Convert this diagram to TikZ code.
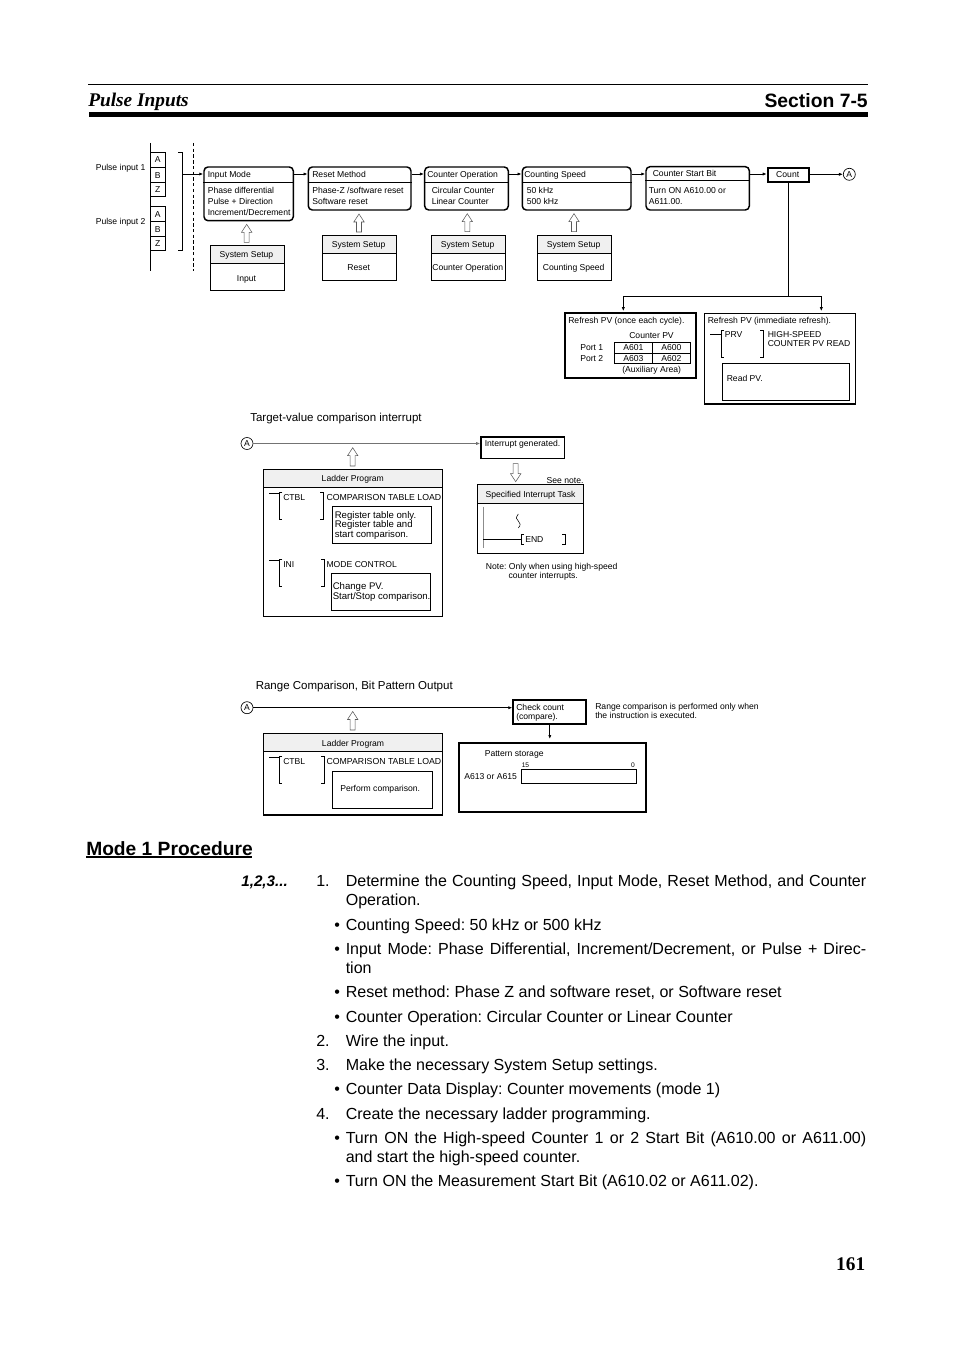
\documentclass[tikz,border=0pt]{standalone}
\usepackage{fontspec}
\setmainfont{Liberation Sans}
\newfontfamily\timesf{Liberation Serif}
\usetikzlibrary{fit,arrows.meta}
\newcommand\smf{\fontsize{6.45pt}{8pt}\selectfont}
\newcommand\mdf{\fontsize{7.2pt}{9pt}\selectfont}
\newcommand\tnf{\fontsize{5pt}{6pt}\selectfont}
\newcommand\lgf{\fontsize{8.63pt}{10pt}\selectfont}
\newcommand\bdf{\fontsize{12.03pt}{14pt}\selectfont}
\newcommand\hollowup[3]{\draw[hollow] (#1-2.5,#3) -- (#1+2.5,#3) -- (#1+2.5,#2+8) -- (#1+5.2,#2+8) -- (#1,#2) -- (#1-5.2,#2+8) -- (#1-2.5,#2+8) -- cycle;}
\newcommand\hollowdown[3]{\draw[hollow] (#1-2.5,#2) -- (#1+2.5,#2) -- (#1+2.5,#3-8) -- (#1+5.2,#3-8) -- (#1,#3) -- (#1-5.2,#3-8) -- (#1-2.5,#3-8) -- cycle;}
\newcommand\ladder[6]{% x-stub, x-left, x-right, y1, y2, y-stub
  \draw[thin line] (#1,#6) -- (#2,#6);
  \draw[thin line] (#2+3,#4) -- (#2,#4) -- (#2,#5) -- (#2+3,#5);
  \draw[thin line] (#3-3,#4) -- (#3,#4) -- (#3,#5) -- (#3-3,#5);}
\newcommand\just[3]{\node[bd] (#1) at (345.5,#2) {\hbox to 390.4pt{#3}};}
\tikzset{
  x=0.75pt,y=-0.75pt,
  thin line/.style={line width=0.6pt,black},
  plain/.style={draw=black,line width=0.6pt,inner sep=0pt},
  heavy/.style={draw=black,line width=1.5pt,inner sep=0pt},
  step round/.style={draw=black,line width=1.1pt,rounded corners=3pt,inner sep=0pt},
  head/.style={draw=black,line width=0.6pt,fill=black!6,inner sep=0pt},
  hollow/.style={draw=black!65,line width=0.4pt,fill=white},
  conn/.style={line width=0.6pt,-{Latex[length=3pt,width=2.4pt]}},
  tx/.style={anchor=base west,inner sep=0pt,font=\smf},
  tc/.style={anchor=base,inner sep=0pt,font=\smf},
  bd/.style={anchor=base west,inner sep=0pt,font=\bdf},
  circ/.style={draw=black,circle,line width=0.5pt,minimum size=9pt,inner sep=0pt,font=\smf},
}
\begin{document}
\frenchspacing
\begin{tikzpicture}
\useasboundingbox (0,0) rectangle (954,1351);
\fill[white] (0,0) rectangle (954,1351);
% page header
\draw[line width=0.6pt] (88,84.7) -- (868,84.7);
\draw[line width=3.5pt] (89,114.3) -- (868,114.3);
\node[anchor=base west,inner sep=0pt,font=\timesf\fontsize{14.5pt}{16pt}\selectfont\bfseries\itshape] (hdl) at (88,106.5) {Pulse Inputs};
\node[anchor=base east,inner sep=0pt,font=\fontsize{14.5pt}{16pt}\selectfont\bfseries] (hdr) at (868,107.5) {Section 7-5};

% ---- pulse inputs
\draw[thin line] (150,143) -- (150,271);
\draw[thin line,dash pattern=on 2.5pt off 1.8pt] (193.3,143) -- (193.3,271);
\foreach \n/\t/\a/\b in {a1/A/152.3/167.3,b1/B/167.3/182.7,z1/Z/182.7/196.3,a2/A/206.3/221.7,b2/B/221.7/236.7,z2/Z/236.7/250.3}{
  \node[plain,fit={(150,\a)(165.7,\b)}] (\n) {};
  \node[tc] (\n t) at ([yshift=-2.4pt]\n.center) {\t};
}
\node[tx] (pi1) at (95.5,171) {Pulse input 1};
\node[tx] (pi2) at (95.5,225) {Pulse input 2};
\coordinate (brk) at (182.7,174);
\draw[thin line] (178.3,152.3) -- (182.7,152.3) -- (182.7,250.3) -- (178.3,250.3);

% ---- top row
\node[step round,fit={(204,167)(293.3,220.7)}] (mode) {};
\node[step round,fit={(308.3,167)(411,210)}] (reset) {};
\node[step round,fit={(424.7,167)(508.3,210)}] (oper) {};
\node[step round,fit={(522.3,167)(631,210)}] (speed) {};
\node[step round,fit={(646,166.7)(749.3,210)}] (start) {};
\node[heavy,fit={(767.7,167.7)(809.3,182.3)}] (count) {};
\node[circ] (aout) at (849.3,174.3) {A};
\foreach \n in {mode,reset,oper,speed}
  \draw[thin line] (\n.west |- 0,182.3) -- (\n.east |- 0,182.3);
\draw[thin line] (start.west |- 0,180.7) -- (start.east |- 0,180.7);
\draw[conn] (brk) -- (mode.west |- brk);
\draw[conn] (mode.east |- brk) -- (reset.west |- brk);
\draw[conn] (reset.east |- brk) -- (oper.west |- brk);
\draw[conn] (oper.east |- brk) -- (speed.west |- brk);
\draw[conn] (speed.east |- brk) -- (start.west |- brk);
\draw[conn] (start.east |- brk) -- (count.west |- brk);
\draw[conn] (count.east |- aout) -- (aout.west);

\node[tx] (t1) at (207.5,177.5) {Input Mode};
\node[tx] (t2) at (207.5,193.5) {Phase differential};
\node[tx] (t3) at (207.5,204.5) {Pulse + Direction};
\node[tx] (t4) at (207.5,215.5) {Increment/Decrement};
\node[tx] (t5) at (312,177.5) {Reset Method};
\node[tx] (t6) at (312,193.5) {Phase-Z /software reset};
\node[tx] (t7) at (312,204.5) {Software reset};
\node[tx] (t8) at (427,177.5) {Counter Operation};
\node[tx] (t9) at (431.5,193.5) {Circular Counter};
\node[tx] (t10) at (431.5,204.5) {Linear Counter};
\node[tx] (t11) at (524,177.5) {Counting Speed};
\node[tx] (t12) at (526.5,193.5) {50 kHz};
\node[tx] (t13) at (526.5,204.5) {500 kHz};
\node[tx] (t14) at (652.5,176.5) {Counter Start Bit};
\node[tx] (t15) at (648.5,193.5) {Turn ON A610.00 or};
\node[tx] (t16) at (648.5,204.5) {A611.00.};
\node[tc] (t17) at ([xshift=-0.6pt]count.center |- 0,177.5) {Count};

% ---- system setup
\foreach \n/\xa/\xb/\ya/\ym/\yb/\lab/\ybl in {
  s1/210.3/284.3/245.7/263.7/290.3/Input/282,
  s2/322.3/396.7/235.3/253.3/280.3/Reset/271,
  s3/431.3/505.7/235.3/253.3/280.3/Counter Operation/271,
  s4/537.3/611.7/235.3/253.3/280.3/Counting Speed/271}{
  \node[plain,fit={(\xa,\ya)(\xb,\yb)}] (\n) {};
  \node[head,fit={(\xa,\ya)(\xb,\ym)}] (\n h) {};
  \node[tc] (\n a) at ([xshift=-0.6pt,yshift=-2.4pt]\n h.center) {System Setup};
  \node[tc] (\n b) at ([xshift=-0.6pt]\n.center |- 0,\ybl) {\lab};
}
\hollowup{246.7}{224.3}{242.3}
\hollowup{359}{214}{232}
\hollowup{467.3}{213.7}{231.7}
\hollowup{574}{213.7}{231.7}

% ---- refresh branches
\coordinate (split) at (788.3,296.3);
\node[heavy,fit={(564.7,313.3)(695.7,378.3)}] (ref1) {};
\node[plain,line width=0.9pt,fit={(704.3,313.3)(855.3,404)}] (ref2) {};
\coordinate (r1in) at (623.3,313.3);
\coordinate (r2in) at (821.3,313.3);
\draw[thin line] (count.south -| split) -- (split);
\draw[conn] (split) -| ([yshift=1.6pt]r1in);
\draw[conn] (split) -| ([yshift=1.6pt]r2in);
\node[tx] (r1) at (568,323.5) {Refresh PV (once each cycle).};
\node[tx] (r2) at (629,338.5) {Counter PV};
\node[tx] (r3) at (580,350.5) {Port 1};
\node[tx] (r4) at (580,361.5) {Port 2};
\node[plain,fit={(614.3,342.3)(652.3,353.7)}] (c1) {};
\node[plain,fit={(652.3,342.3)(690.3,353.7)}] (c2) {};
\node[plain,fit={(614.3,353.7)(652.3,363.7)}] (c3) {};
\node[plain,fit={(652.3,353.7)(690.3,363.7)}] (c4) {};
\node[tc] (c1t) at (c1.center |- 0,350.5) {A601};
\node[tc] (c2t) at (c2.center |- 0,350.5) {A600};
\node[tc] (c3t) at (c3.center |- 0,361.5) {A603};
\node[tc] (c4t) at (c4.center |- 0,361.5) {A602};
\node[tx] (r5) at (622,372.5) {(Auxiliary Area)};
\node[tx] (r6) at (707.5,323.5) {Refresh PV (immediate refresh).};
\ladder{710}{721}{763}{330}{357.3}{334}
\node[tx] (r7) at (724.5,337.5) {PRV};
\node[tx] (r8) at (767.5,337.5) {HIGH-SPEED};
\node[tx] (r9) at (767.5,346.5) {COUNTER PV READ};
\node[plain,fit={(722.3,363.3)(849.3,400.7)}] (rp) {};
\node[tx] (r10) at (726.5,381.5) {Read PV.};

% ---- target-value comparison interrupt
\node[anchor=base west,inner sep=0pt,font=\lgf] (tv) at (250,421) {Target-value comparison interrupt};
\node[circ] (a2) at (247,443.5) {A};
\node[heavy,line width=1.2pt,fit={(481,436.7)(564.3,458.3)}] (intr) {};
\draw[conn,draw=black!55,line width=0.8pt] (a2.east) -- (intr.west |- a2);
\node[tx] (i1) at (484.5,446) {Interrupt generated.};
\hollowup{352.7}{447.7}{466}
\node[plain,line width=0.9pt,fit={(263.3,469.3)(442.3,616.3)}] (lad1) {};
\node[head,fit={(263.3,469.3)(442.3,487.3)}] (lad1h) {};
\node[tc] (l1) at ([yshift=-2.4pt]lad1h.center) {Ladder Program};
\ladder{269.3}{279.3}{323.3}{492.3}{519.3}{493.3}
\node[tx] (l2) at (283,500) {CTBL};
\node[tx,font=\fontsize{6.55pt}{8pt}\selectfont] (l3) at (326.3,500) {COMPARISON TABLE LOAD};
\node[plain,fit={(332.7,506)(431.7,543.3)}] (lb1) {};
\node[tx,font=\mdf] (l4) at (334.5,518) {Register table only.};
\node[tx,font=\mdf] (l5) at (334.5,527) {Register table and};
\node[tx,font=\mdf] (l6) at (334.5,537) {start comparison.};
\ladder{269.3}{279.3}{324.3}{559}{586.3}{560}
\node[tx] (l7) at (283,567) {INI};
\node[tx] (l8) at (326.3,567) {MODE CONTROL};
\node[plain,fit={(331.3,573)(430.7,610.3)}] (lb2) {};
\node[tx,font=\mdf] (l9) at (332.5,589) {Change PV.};
\node[tx,font=\mdf] (l10) at (332.5,599) {Start/Stop comparison.};
\hollowdown{515.7}{463.7}{481.7}
\node[tx,anchor=base east] (n0) at (583.7,483) {See note.};
\node[plain,fit={(477.3,484.3)(583.7,553.3)}] (task) {};
\node[head,fit={(477.3,484.3)(583.7,503)}] (taskh) {};
\node[tc] (t20) at ([yshift=-2.6pt]taskh.center) {Specified Interrupt Task};
\draw[draw=black!45,line width=0.7pt] (483.3,506.7) -- (483.3,547.7);
\ladder{483.3}{521}{565}{534.3}{544.3}{539.3}
\draw[line width=0.4pt] (518.3,514) .. controls (515.5,518) and (516,519) .. (518.3,521) .. controls (520.5,523) and (521,525) .. (518.3,528);
\node[tx] (t21) at (525,542) {END};
\node[tx] (n1) at (485.7,569) {Note: Only when using high-speed};
\node[tx] (n2) at (508.3,578) {counter interrupts.};

% ---- range comparison
\node[anchor=base west,inner sep=0pt,font=\lgf] (rc) at (255.5,689) {Range Comparison, Bit Pattern Output};
\node[circ] (a3) at (247,707.7) {A};
\node[heavy,fit={(513.3,699.7)(586.3,723.5)}] (chk) {};
\draw[conn] (a3.east) -- (chk.west |- a3);
\node[tx] (k1) at (516,710) {Check count};
\node[tx] (k2) at (516,719) {(compare).};
\node[tx] (k3) at (595,709) {Range comparison is performed only when};
\node[tx] (k4) at (595,718.5) {the instruction is executed.};
\hollowup{352.7}{711.5}{730}
\node[plain,line width=0.9pt,fit={(263.3,733.3)(442.8,815)}] (lad2) {};
\node[head,fit={(263.3,733.3)(442.8,751.5)}] (lad2h) {};
\node[tc] (m1) at ([yshift=-2.8pt]lad2h.center) {Ladder Program};
\ladder{269.3}{279.3}{324}{756.5}{783.5}{757.5}
\node[tx] (m2) at (283,764) {CTBL};
\node[tx,font=\fontsize{6.55pt}{8pt}\selectfont] (m3) at (326.3,764) {COMPARISON TABLE LOAD};
\node[plain,fit={(332,771)(432,808)}] (pc) {};
\node[tx] (m4) at (340,791) {Perform comparison.};
\node[heavy,fit={(459,742.7)(645.7,811.7)}] (pat) {};
\draw[conn] (chk.south) -- ([yshift=2pt]chk.south |- pat.north);
\node[tx] (p1) at (484.5,756) {Pattern storage};
\node[anchor=base west,inner sep=0pt,font=\tnf] (p2) at (521.5,767) {15};
\node[anchor=base east,inner sep=0pt,font=\tnf] (p3) at (635,767) {0};
\node[plain,fit={(521.5,769.3)(636.7,783.3)}] (pb) {};
\node[tx] (p4) at (464,779) {A613 or A615};

% ---- Mode 1 procedure
\node[anchor=base west,inner sep=0pt,font=\fontsize{14.4pt}{16pt}\selectfont\bfseries] (mp) at (86,855) {Mode 1 Procedure};
\draw[line width=0.9pt] (86,857) -- (252,857);
\node[anchor=base west,inner sep=0pt,font=\fontsize{11.45pt}{13pt}\selectfont\bfseries\itshape] (seq) at (241,886) {1,2,3...};
\node[bd] (b1n) at (316,886) {1.};
\just{b1a}{886}{Determine the Counting Speed, Input Mode, Reset Method, and Counter}
\node[bd] (b1b) at (345.5,905) {Operation.};
\node[bd] (d1) at (334,930) {•};
\node[bd] (b2) at (345.5,930) {Counting Speed: 50 kHz or 500 kHz};
\node[bd] (d2) at (334,954) {•};
\just{b3a}{954}{Input Mode: Phase Differential, Increment/Decrement, or Pulse + Direc-}
\node[bd] (b3b) at (345.5,973) {tion};
\node[bd] (d3) at (334,997) {•};
\node[bd] (b4) at (345.5,997) {Reset method: Phase Z and software reset, or Software reset};
\node[bd] (d4) at (334,1022) {•};
\node[bd] (b5) at (345.5,1022) {Counter Operation: Circular Counter or Linear Counter};
\node[bd] (b6n) at (316,1046) {2.};
\node[bd] (b6) at (345.5,1046) {Wire the input.};
\node[bd] (b7n) at (316,1070) {3.};
\node[bd] (b7) at (345.5,1070) {Make the necessary System Setup settings.};
\node[bd] (d5) at (334,1094) {•};
\node[bd] (b8) at (345.5,1094) {Counter Data Display: Counter movements (mode 1)};
\node[bd] (b9n) at (316,1119) {4.};
\node[bd] (b9) at (345.5,1119) {Create the necessary ladder programming.};
\node[bd] (d6) at (334,1143) {•};
\just{b10a}{1143}{Turn ON the High-speed Counter 1 or 2 Start Bit (A610.00 or A611.00)}
\node[bd] (b10b) at (345.5,1162) {and start the high-speed counter.};
\node[bd] (d7) at (334,1186) {•};
\node[bd] (b11) at (345.5,1186) {Turn ON the Measurement Start Bit (A610.02 or A611.02).};
\node[anchor=base east,inner sep=0pt,font=\timesf\fontsize{14.5pt}{17pt}\selectfont\bfseries] (pg) at (865.5,1270) {161};
\end{tikzpicture}
\end{document}
